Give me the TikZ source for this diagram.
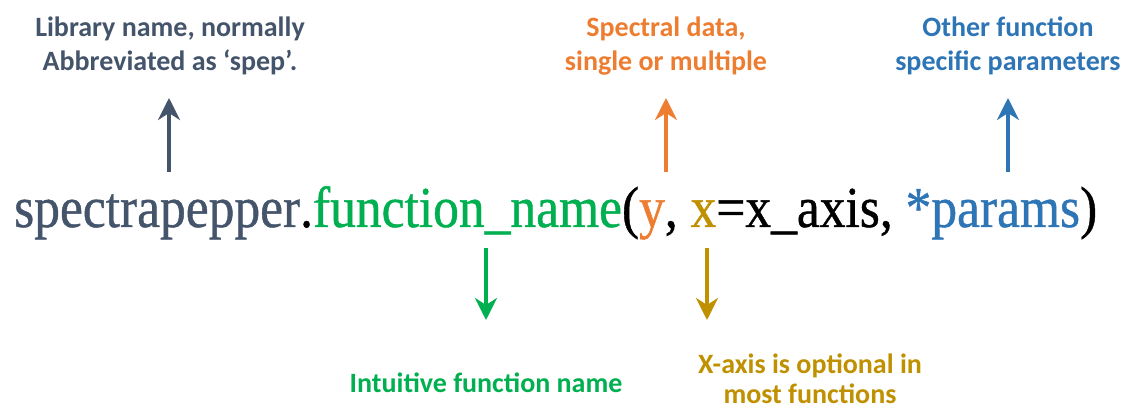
\documentclass[tikz,border=0pt]{standalone}
\usepackage{fontspec}
\usepackage{graphicx}
\setmainfont{Liberation Serif}
\newfontfamily\codefont{Liberation Serif}[FakeBold=0.8]
\newfontfamily\labelfont{Carlito}[BoldFont={Carlito Bold}]
\usetikzlibrary{arrows.meta}

\definecolor{slate}{HTML}{44546A}
\definecolor{grn}{HTML}{00B050}
\definecolor{org}{HTML}{ED7D31}
\definecolor{gld}{HTML}{BF9000}
\definecolor{blu}{HTML}{2E75B6}

\tikzset{
  lbl/.style={inner sep=0pt, align=center, anchor=base,
    font=\labelfont\bfseries\fontsize{28}{34}\selectfont},
  pointer/.style={line width=4.5pt,
    -{Stealth[length=22pt,width=22pt,inset=7pt]}}
}

\begin{document}
\begin{tikzpicture}[x=1pt,y=-1pt]
\useasboundingbox (0,0) rectangle (1125,411);

% the call signature
\node[inner sep=0pt, anchor=base west] (code) at (14,227)
  {\resizebox{1083pt}{\height}{\codefont\fontsize{58}{60}\selectfont
   {\color{slate}spectrapepper}.{\color{grn}function\_name}({\color{org}y},
   {\color{gld}x}=x\_axis, {\color{blu}*params})}};

% explanations (anchored at the baseline of the last line)
\node[lbl, text=slate] (lib) at (170,71)
  {Library name, normally\\Abbreviated as ‘spep’.};
\node[lbl, text=org] (spec) at (666,71)
  {Spectral data,\\single or multiple};
\node[lbl, text=blu] (other) at (1008,71)
  {Other function\\specific parameters};
\node[lbl, text=grn] (intuit) at (486,393)
  {Intuitive function name};
\node[lbl, text=gld,
  font=\labelfont\bfseries\fontsize{28}{30}\selectfont] (xaxis) at (810,404)
  {X-axis is optional in\\most functions};

% arrow ends
\coordinate (libS) at (169,172);   \coordinate (libT) at (169,98);
\coordinate (specS) at (666,172);  \coordinate (specT) at (666,98);
\coordinate (othS) at (1008,172);  \coordinate (othT) at (1008,98);
\coordinate (intS) at (486,248);   \coordinate (intT) at (486,320);
\coordinate (xS) at (707,248);     \coordinate (xT) at (707,320);

\draw[pointer, slate] (libS) -- (libT);
\draw[pointer, org] (specS) -- (specT);
\draw[pointer, blu] (othS) -- (othT);
\draw[pointer, grn] (intS) -- (intT);
\draw[pointer, gld] (xS) -- (xT);
\end{tikzpicture}
\end{document}
